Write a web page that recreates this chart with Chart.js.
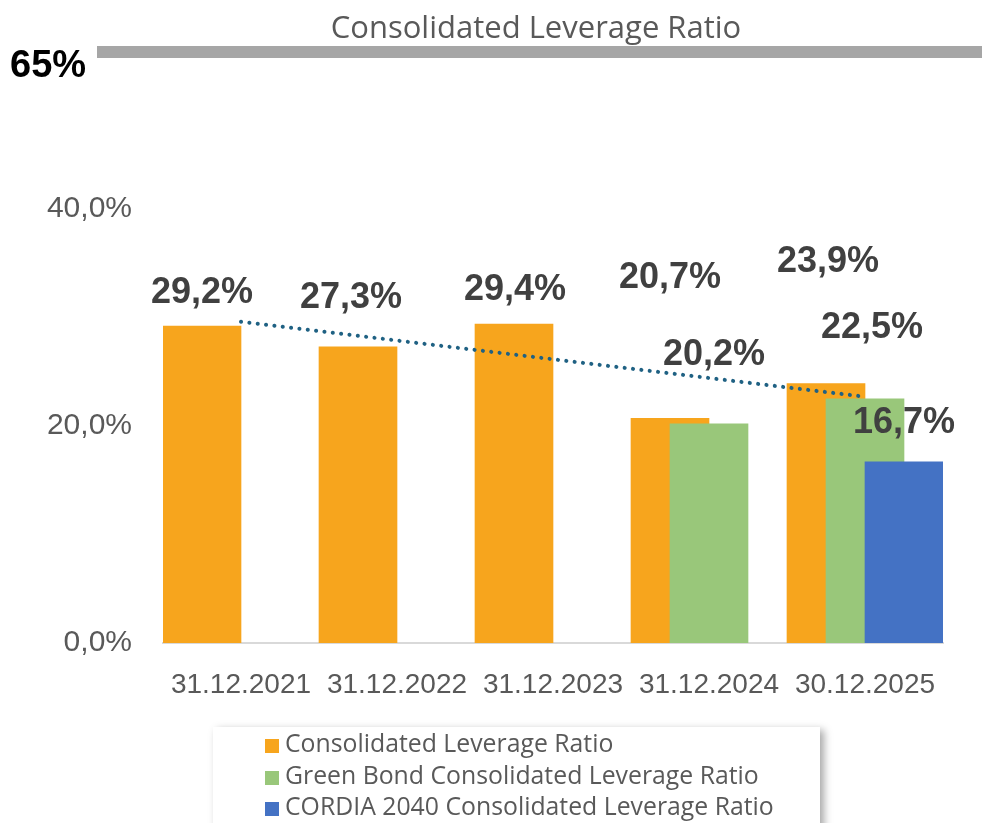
<!DOCTYPE html>
<html>
<head>
<meta charset="utf-8">
<title>Consolidated Leverage Ratio</title>
<script src="https://cdn.jsdelivr.net/npm/chart.js@4.4.1/dist/chart.umd.min.js"></script>
<style>
    html, body { margin: 0; padding: 0; background: #fff; }
    #wrap { position: relative; width: 982px; height: 823px; overflow: hidden; }
    #lev-chart { position: absolute; left: 0; top: 0; }
    #lev-legend {
        position: absolute; left: 213px; top: 727px; width: 607px; height: 110px;
        background: #fff; box-shadow: 4px 3px 8px rgba(0, 0, 0, 0.35);
        font-family: "Open Sans", "Noto Sans", sans-serif; font-size: 24.8px; color: #595959;
        box-sizing: border-box; padding-left: 52px;
    }
    #lev-legend .item { height: 31.5px; line-height: 31.5px; white-space: nowrap; }
    #lev-legend .sw { display: inline-block; width: 14px; height: 14px; margin-right: 6px; vertical-align: -1px; }
</style>
</head>
<body>
<div id="wrap">
    <canvas id="lev-chart" width="982" height="823"></canvas>
    <div id="lev-legend"></div>
</div>
<script>
var categories = ['31.12.2021', '31.12.2022', '31.12.2023', '31.12.2024', '30.12.2025'];
var seriesNames = [
    'Consolidated Leverage Ratio',
    'Green Bond Consolidated Leverage Ratio',
    'CORDIA 2040 Consolidated Leverage Ratio'
];
var consolidated = [29.2, 27.3, 29.4, 20.7, 23.9];
var greenBond = [null, null, null, 20.2, 22.5];
var cordia2040 = [null, null, null, null, 16.7];
var trendStart = 29.6;
var trendEnd = 22.7;
var limitValue = 65;
var yTicks = [0, 20, 40];

// label nudges in px (dx, dy) from the top of each bar
var consolidatedNudge = [[0, -33], [-7, -49], [1, -34], [0, -140], [2, -122]];
var greenBondNudge = [null, null, null, [5, -69], [7, -71]];
var cordiaNudge = [null, null, null, null, [0, -39]];

var colors = ['#F7A51D', '#99C77A', '#4472C4'];
var slot = [-0.25, 0, 0.25];

function pct(v) {
    return v.toFixed(1).replace('.', ',') + '%';
}

function toPoints(values, shift) {
    var pts = [];
    values.forEach(function (v, i) {
        if (v !== null) pts.push({ x: i + shift, y: v });
    });
    return pts;
}

var valueLabels = {
    id: 'valueLabels',
    afterDatasetsDraw: function (chart) {
        var ctx = chart.ctx;
        var sets = [[consolidated, consolidatedNudge], [greenBond, greenBondNudge], [cordia2040, cordiaNudge]];
        ctx.save();
        ctx.font = 'bold 36px "Liberation Sans", Arial, sans-serif';
        ctx.fillStyle = '#404040';
        ctx.textAlign = 'center';
        ctx.textBaseline = 'middle';
        sets.forEach(function (s, di) {
            var meta = chart.getDatasetMeta(di);
            var k = 0;
            s[0].forEach(function (v, i) {
                if (v === null) return;
                var bar = meta.data[k++];
                var n = s[1][i] || [0, -30];
                ctx.fillText(pct(v), bar.x + n[0], bar.y + n[1]);
            });
        });
        ctx.restore();
    }
};

var headerBits = {
    id: 'headerBits',
    afterDraw: function (chart) {
        var ctx = chart.ctx;
        ctx.save();
        ctx.fillStyle = '#595959';
        ctx.font = '31px "Open Sans", "Noto Sans", sans-serif';
        ctx.textAlign = 'center';
        ctx.textBaseline = 'middle';
        ctx.fillText('Consolidated Leverage Ratio', 536, 29);
        // limit bar
        ctx.fillStyle = '#A6A6A6';
        ctx.fillRect(97, 46, chart.width - 97, 12);
        ctx.fillStyle = '#000';
        ctx.font = 'bold 38px "Liberation Sans", Arial, sans-serif';
        ctx.textAlign = 'left';
        ctx.textBaseline = 'alphabetic';
        ctx.fillText(limitValue + '%', 10, 77);
        ctx.restore();
    }
};

var datasets = [
    {
        type: 'line',
        label: 'trend',
        data: [{ x: 0, y: trendStart }, { x: categories.length - 1, y: trendEnd }],
        borderColor: '#1F6183',
        borderWidth: 4,
        borderDash: [0.1, 8.3],
        borderCapStyle: 'round',
        pointRadius: 0,
        fill: false,
        order: 0
    }
];
[consolidated, greenBond, cordia2040].forEach(function (vals, i) {
    datasets.splice(i, 0, {
        type: 'bar',
        label: seriesNames[i],
        data: toPoints(vals, slot[i]),
        backgroundColor: colors[i],
        barThickness: 78,
        grouped: false,
        order: 3 - i
    });
});

var chart = new Chart(document.getElementById('lev-chart'), {
    type: 'bar',
    data: { datasets: datasets },
    options: {
        responsive: false,
        animation: false,
        events: [],
        layout: { padding: { top: 209, right: 39, bottom: 120, left: 0 } },
        plugins: { legend: { display: false }, tooltip: { enabled: false } },
        scales: {
            x: {
                type: 'linear',
                min: -0.5,
                max: categories.length - 0.5,
                offset: false,
                grid: { display: false, drawTicks: false },
                border: { display: true, color: '#D9D9D9', width: 2 },
                afterBuildTicks: function (scale) {
                    scale.ticks = categories.map(function (c, i) { return { value: i }; });
                },
                afterFit: function (scale) { scale.height = 60; },
                ticks: {
                    padding: 25,
                    maxRotation: 0,
                    autoSkip: false,
                    color: '#595959',
                    font: { family: '"Liberation Sans", Arial, sans-serif', size: 28 },
                    callback: function (v) { return categories[v]; }
                }
            },
            y: {
                min: 0,
                max: 40,
                grid: { display: false, drawTicks: false },
                border: { display: false },
                afterBuildTicks: function (scale) {
                    scale.ticks = yTicks.map(function (v) { return { value: v }; });
                },
                afterFit: function (scale) { scale.width = 163; },
                ticks: {
                    padding: 31,
                    color: '#595959',
                    font: { family: '"Liberation Sans", Arial, sans-serif', size: 30 },
                    callback: function (v) { return pct(v); }
                }
            }
        }
    },
    plugins: [valueLabels, headerBits]
});

// legend built from the bar datasets
var legendEl = document.getElementById('lev-legend');
var html = '';
chart.data.datasets.forEach(function (ds) {
    if (ds.type !== 'bar') return;
    html += '<div class="item"><span class="sw" style="background:' + ds.backgroundColor + '"></span>' + ds.label + '</div>';
});
legendEl.innerHTML = html;
</script>
</body>
</html>
